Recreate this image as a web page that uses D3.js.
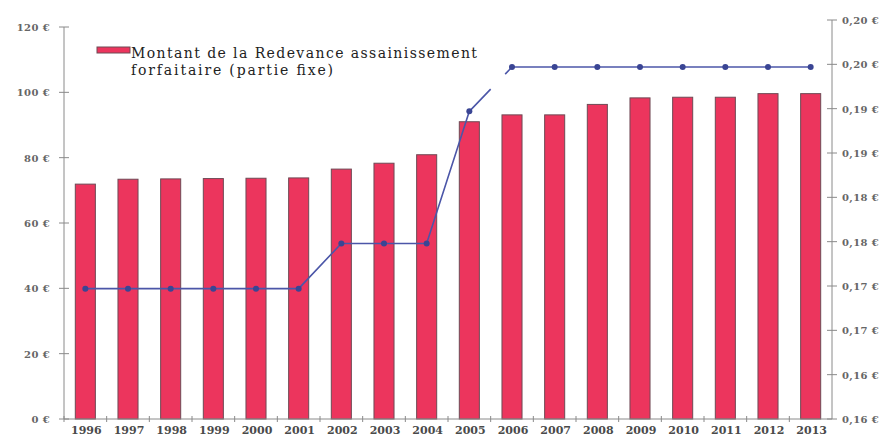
<!DOCTYPE html>
<html><head><meta charset="utf-8">
<script src="https://cdn.jsdelivr.net/npm/d3@7"></script>
<style>html,body{margin:0;padding:0;background:#fff;}svg{display:block;}</style>
</head><body>
<svg id="chart" width="889" height="437"></svg>
<script>
const years = ["1996","1997","1998","1999","2000","2001","2002","2003","2004","2005","2006","2007","2008","2009","2010","2011","2012","2013"];
const redevanceFixe = [71.9,73.4,73.5,73.6,73.7,73.8,76.5,78.3,80.9,91.0,93.1,93.1,96.3,98.3,98.5,98.5,99.6,99.6];
const prixM3 = [0.1747,0.1747,0.1747,0.1747,0.1747,0.1747,0.1798,0.1798,0.1798,0.1947,0.1997,0.1997,0.1997,0.1997,0.1997,0.1997,0.1997,0.1997];
const leftTicks = [0,20,40,60,80,100,120];
const leftTickLabels = ["0 €","20 €","40 €","60 €","80 €","100 €","120 €"];
const rightTicks = [0.16,0.165,0.17,0.175,0.18,0.185,0.19,0.195,0.20,0.205];
const rightTickLabels = ["0,16 €","0,16 €","0,17 €","0,17 €","0,18 €","0,18 €","0,19 €","0,19 €","0,20 €","0,20 €"];
const legendLines = ["Montant de la Redevance assainissement","forfaitaire (partie fixe)"];

const svg = d3.select("#chart");
const L = 64, R = 832, B = 419;
const x = d3.scaleBand().domain(years).range([L, R]).paddingInner(0.53).paddingOuter(0.265);
const yL = d3.scaleLinear().domain([0,120]).range([B, 27]);
const yR = d3.scaleLinear().domain([0.16,0.205]).range([B, 20]);

const axisCol = "#8a8a8a", textCol = "#666";
const barFill = "#ec355d", barStroke = "#6e4a55";
const lineCol = "#4b56a8", ptCol = "#3a4594";
const tickFont = "DejaVu Serif, serif";

// bars
svg.append("g").selectAll("rect").data(years).join("rect")
  .attr("x", d => x(d)).attr("width", x.bandwidth())
  .attr("y", (d,i) => yL(redevanceFixe[i]))
  .attr("height", (d,i) => B - yL(redevanceFixe[i]))
  .attr("fill", barFill).attr("stroke", barStroke).attr("stroke-width", 1);

// left axis
const gl = svg.append("g");
gl.append("line").attr("x1", L).attr("x2", L).attr("y1", yL(120)).attr("y2", B).attr("stroke", axisCol);
leftTicks.forEach((t,i) => {
  gl.append("line").attr("x1", L-5).attr("x2", L+5).attr("y1", yL(t)).attr("y2", yL(t)).attr("stroke", axisCol);
  gl.append("text").attr("x", 50).attr("y", yL(t)+4).attr("text-anchor","end")
    .attr("font-family", tickFont).attr("font-size", 10).attr("font-weight","bold").attr("letter-spacing", 0.4)
    .attr("fill", textCol).text(leftTickLabels[i]);
});

// right axis
const gr = svg.append("g");
gr.append("line").attr("x1", R).attr("x2", R).attr("y1", yR(0.205)).attr("y2", B).attr("stroke", axisCol);
rightTicks.forEach((t,i) => {
  gr.append("line").attr("x1", R-5).attr("x2", R+5).attr("y1", yR(t)).attr("y2", yR(t)).attr("stroke", axisCol);
  gr.append("text").attr("x", 842).attr("y", yR(t)+4).attr("text-anchor","start")
    .attr("font-family", tickFont).attr("font-size", 10).attr("font-weight","bold").attr("letter-spacing", 0.4)
    .attr("fill", textCol).text(rightTickLabels[i]);
});

// x axis
const gx = svg.append("g");
gx.append("line").attr("x1", L).attr("x2", R).attr("y1", B).attr("y2", B).attr("stroke", axisCol);
years.forEach((yr,i) => {
  const bx = L + i * x.step();
  gx.append("line").attr("x1", bx).attr("x2", bx).attr("y1", B-3).attr("y2", B+3).attr("stroke", axisCol);
  gx.append("text").attr("x", x(yr) + x.bandwidth()/2 + 1).attr("y", 434).attr("text-anchor","middle")
    .attr("font-family", tickFont).attr("font-size", 11).attr("font-weight","bold").attr("fill", "#4a4a4a").text(yr);
});

// line
const pts = years.map((yr,i) => [x(yr) + x.bandwidth()/2, yR(prixM3[i])]);
const line = d3.line();
svg.append("path").attr("d", line(pts.slice(0,10))).attr("fill","none").attr("stroke", lineCol).attr("stroke-width", 1.6);
svg.append("path").attr("d", line(pts.slice(10))).attr("fill","none").attr("stroke", lineCol).attr("stroke-width", 1.6);
// connecting segment 2005 -> 2006 (broken in the original)
const a = pts[9], b = pts[10];
const segLen = Math.hypot(b[0]-a[0], b[1]-a[1]);
svg.append("path").attr("d", line([a,b])).attr("fill","none").attr("stroke", lineCol).attr("stroke-width", 1.6)
  .attr("stroke-dasharray", `${segLen*0.5} ${segLen*0.34} ${segLen*0.2}`);
svg.append("g").selectAll("circle").data(pts).join("circle")
  .attr("cx", d => d[0]).attr("cy", d => d[1]).attr("r", 3).attr("fill", ptCol);

// legend
svg.append("rect").attr("x", 97).attr("y", 47).attr("width", 33).attr("height", 6)
  .attr("fill", barFill).attr("stroke", barStroke).attr("stroke-width", 1);
const legendWidths = [346, 202];
legendLines.forEach((t,i) => {
  svg.append("text").attr("x", 131).attr("y", 58 + i*16.5)
    .attr("font-family","DejaVu Serif, serif").attr("font-size", 14).attr("fill", "#222")
    .attr("textLength", legendWidths[i]).attr("lengthAdjust", "spacing").text(t);
});
</script>
</body></html>
